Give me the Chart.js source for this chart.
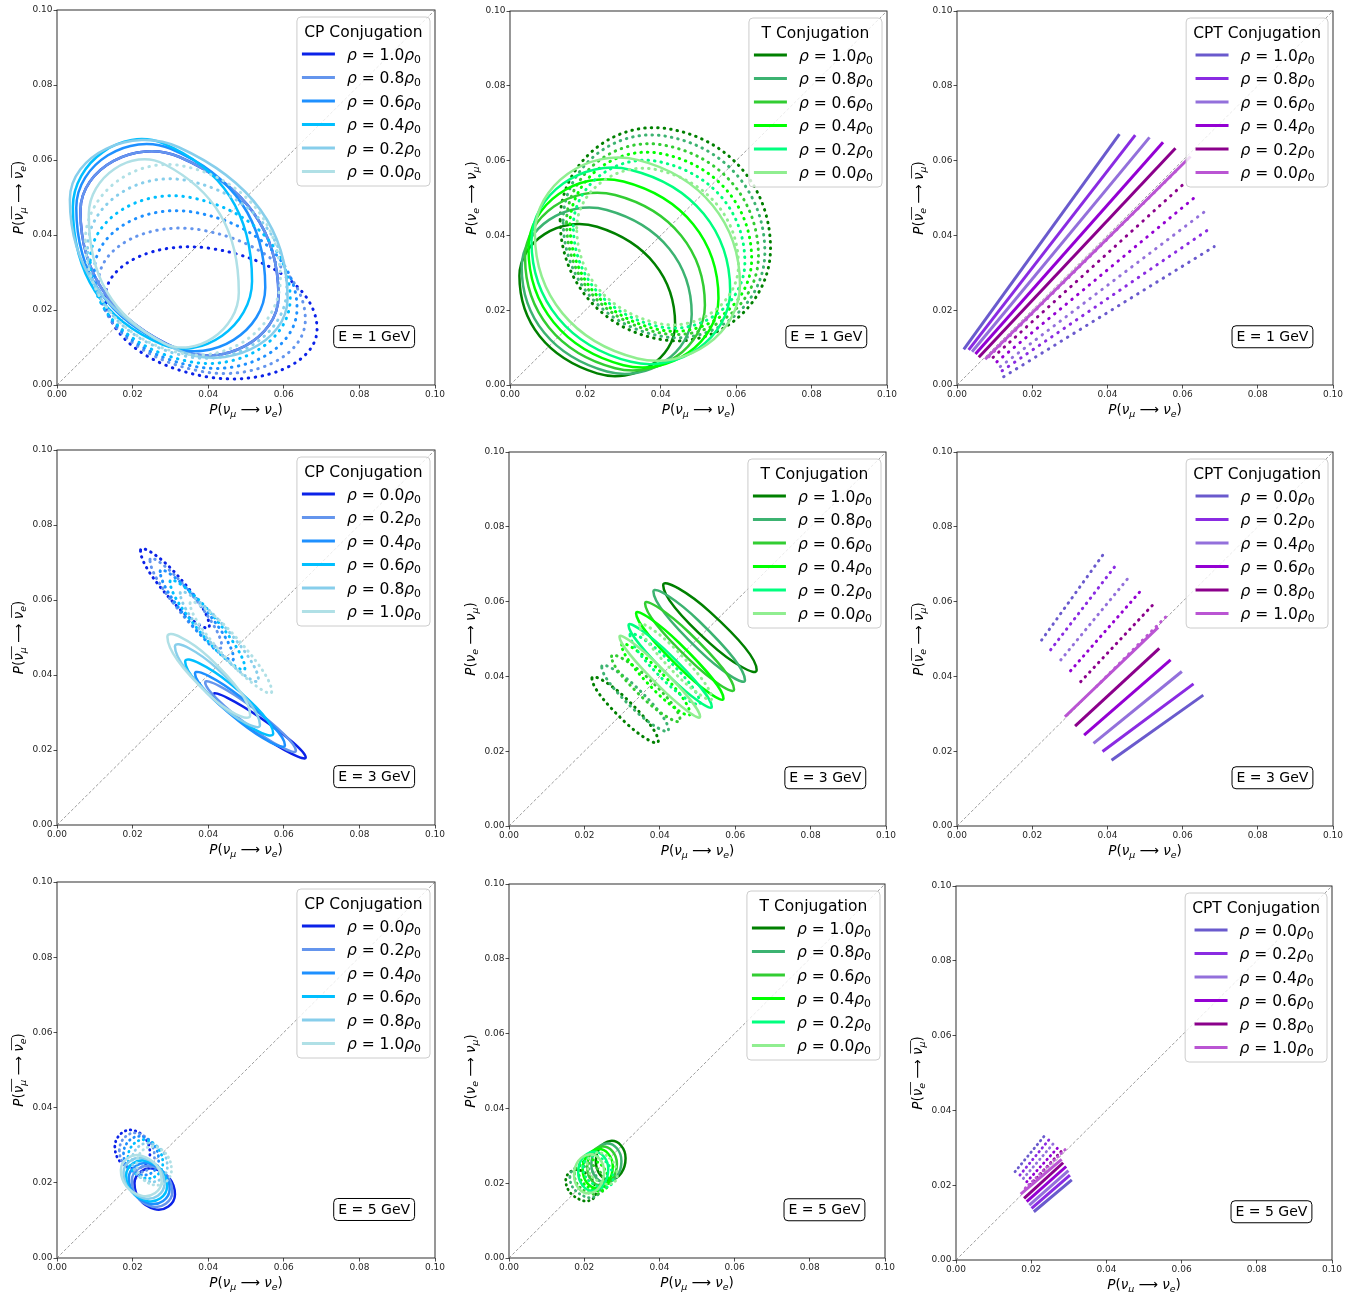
<!DOCTYPE html>
<html><head><meta charset="utf-8">
<script src="https://cdn.jsdelivr.net/npm/chart.js@4.4.1/dist/chart.umd.min.js"></script>
<style>
html,body{margin:0;padding:0;background:#fff;}
body{width:1365px;height:1292px;position:relative;overflow:hidden;}
canvas{position:absolute;}
</style></head><body>
<script>
// ---------------- DATA ----------------
// Ellipses: [left-most point, upper crossing at centre x, right-most point, lower crossing at centre x]
// Lines: [start, end]
const energies = ['1', '3', '5'];
const rhoDesc = ['1.0', '0.8', '0.6', '0.4', '0.2', '0.0'];
const rhoAsc = ['0.0', '0.2', '0.4', '0.6', '0.8', '1.0'];
const cpColors = ['#0b22e8', '#6495ed', '#1e90ff', '#00bfff', '#87ceeb', '#b0e0e6'];
const tColors = ['#008000', '#3cb371', '#32cd32', '#00ff00', '#00ff7f', '#90ee90'];
const cptColors = ['#6a5acd', '#8a2be2', '#9370db', '#9400d3', '#8b008b', '#ba55d3'];
const diagonal = [[0, 0], [0.1, 0.1]];

const cpE1Solid = [
  [[0.0062,0.0465],[0.0324,0.0608],[0.0586,0.0237],[0.0324,0.0094]],
  [[0.0062,0.0465],[0.0324,0.0608],[0.0586,0.0237],[0.0324,0.0094]],
  [[0.0051,0.0473],[0.0301,0.0630],[0.0551,0.0260],[0.0301,0.0103]],
  [[0.0042,0.0475],[0.0279,0.0645],[0.0516,0.0277],[0.0279,0.0108]],
  [[0.0034,0.0495],[0.0322,0.0634],[0.0610,0.0231],[0.0322,0.0092]],
  [[0.0084,0.0455],[0.0282,0.0590],[0.0481,0.0247],[0.0282,0.0112]]
];
const cpE1Dotted = [
  [[0.0128,0.0235],[0.0408,0.0364],[0.0688,0.0149],[0.0408,0.0020]],
  [[0.0110,0.0275],[0.0384,0.0413],[0.0657,0.0174],[0.0384,0.0036]],
  [[0.0099,0.0305],[0.0367,0.0460],[0.0635,0.0204],[0.0367,0.0049]],
  [[0.0088,0.0332],[0.0353,0.0500],[0.0617,0.0230],[0.0353,0.0062]],
  [[0.0081,0.0365],[0.0345,0.0545],[0.0608,0.0256],[0.0345,0.0076]],
  [[0.0075,0.0385],[0.0333,0.0584],[0.0591,0.0283],[0.0333,0.0084]]
];
const tE1Solid = [
  [[0.0025,0.0292],[0.0231,0.0423],[0.0438,0.0162],[0.0231,0.0031]],
  [[0.0031,0.0315],[0.0257,0.0468],[0.0482,0.0189],[0.0257,0.0036]],
  [[0.0040,0.0340],[0.0279,0.0508],[0.0517,0.0213],[0.0279,0.0045]],
  [[0.0049,0.0365],[0.0301,0.0544],[0.0553,0.0232],[0.0301,0.0053]],
  [[0.0057,0.0385],[0.0321,0.0575],[0.0584,0.0252],[0.0321,0.0062]],
  [[0.0066,0.0405],[0.0338,0.0602],[0.0610,0.0268],[0.0338,0.0071]]
];
const tE1Dotted = [
  [[0.0133,0.0441],[0.0412,0.0686],[0.0691,0.0365],[0.0412,0.0120]],
  [[0.0141,0.0440],[0.0409,0.0666],[0.0676,0.0355],[0.0409,0.0129]],
  [[0.0150,0.0435],[0.0405,0.0642],[0.0659,0.0345],[0.0405,0.0138]],
  [[0.0159,0.0430],[0.0400,0.0619],[0.0641,0.0336],[0.0400,0.0147]],
  [[0.0168,0.0425],[0.0396,0.0597],[0.0623,0.0328],[0.0396,0.0156]],
  [[0.0177,0.0420],[0.0392,0.0575],[0.0606,0.0320],[0.0392,0.0165]]
];
const cptE1Solid = [
  [[0.0018,0.0095],[0.0432,0.0671]],
  [[0.0031,0.0094],[0.0474,0.0668]],
  [[0.0040,0.0089],[0.0512,0.0662]],
  [[0.0049,0.0083],[0.0548,0.0649]],
  [[0.0058,0.0074],[0.0581,0.0633]],
  [[0.0075,0.0069],[0.0621,0.0611]]
];
const cptE1Dotted = [
  [[0.0124,0.0022],[0.0684,0.0370]],
  [[0.0120,0.0038],[0.0678,0.0422]],
  [[0.0115,0.0049],[0.0658,0.0463]],
  [[0.0106,0.0062],[0.0635,0.0504]],
  [[0.0096,0.0074],[0.0610,0.0544]],
  [[0.0085,0.0076],[0.0590,0.0580]]
];
const cpE3Solid = [
  [[0.0414,0.0349],[0.0536,0.02875],[0.0658,0.0180],[0.0536,0.02415]],
  [[0.0392,0.0380],[0.0512,0.0317],[0.0632,0.0198],[0.0512,0.0261]],
  [[0.0365,0.0404],[0.0484,0.03425],[0.0603,0.0213],[0.0484,0.02745]],
  [[0.0339,0.0436],[0.04555,0.0379],[0.0572,0.0244],[0.04555,0.0301]],
  [[0.0312,0.0476],[0.04245,0.04165],[0.0537,0.0267],[0.04245,0.03265]],
  [[0.0292,0.0502],[0.04015,0.04475],[0.0511,0.0293],[0.04015,0.03475]]
];
const cpE3Dotted = [
  [[0.0221,0.0732],[0.0312,0.0673],[0.0403,0.0530],[0.0312,0.0589]],
  [[0.0246,0.0707],[0.0341,0.06335],[0.0436,0.0476],[0.0341,0.05495]],
  [[0.0273,0.0676],[0.0370,0.0602],[0.0467,0.0444],[0.0370,0.0518]],
  [[0.0299,0.0649],[0.0398,0.05755],[0.0497,0.0418],[0.0398,0.04915]],
  [[0.0326,0.0618],[0.04295,0.05445],[0.0533,0.0387],[0.04295,0.04605]],
  [[0.0352,0.0591],[0.0460,0.05155],[0.0568,0.0356],[0.0460,0.04315]]
];
const tE3Solid = [
  [[0.0409,0.0644],[0.0533,0.05725],[0.0657,0.0417],[0.0533,0.04885]],
  [[0.0383,0.0627],[0.05045,0.05475],[0.0626,0.0390],[0.05045,0.04695]],
  [[0.0361,0.0595],[0.0479,0.0516],[0.0597,0.0365],[0.0479,0.0444]],
  [[0.0337,0.0569],[0.0453,0.0488],[0.0569,0.0341],[0.0453,0.0422]],
  [[0.0317,0.0537],[0.04275,0.0458],[0.0538,0.0319],[0.04275,0.0398]],
  [[0.0293,0.0506],[0.0400,0.0426],[0.0507,0.0292],[0.0400,0.0372]]
];
const tE3Dotted = [
  [[0.0220,0.0395],[0.0308,0.03435],[0.0396,0.0226],[0.0308,0.02775]],
  [[0.0246,0.0426],[0.03345,0.03745],[0.0423,0.0257],[0.03345,0.03085]],
  [[0.0272,0.0453],[0.0363,0.0401],[0.0454,0.0283],[0.0363,0.0335]],
  [[0.0299,0.0484],[0.03895,0.0425],[0.0480,0.0300],[0.03895,0.0359]],
  [[0.0321,0.0511],[0.0414,0.04525],[0.0507,0.0328],[0.0414,0.03865]],
  [[0.0347,0.0537],[0.04425,0.0472],[0.0538,0.0341],[0.04425,0.0406]]
];
const cptE3Solid = [
  [[0.0411,0.0176],[0.0655,0.0350]],
  [[0.0387,0.0199],[0.0629,0.0380]],
  [[0.0363,0.0221],[0.0598,0.0413]],
  [[0.0338,0.0243],[0.0568,0.0444]],
  [[0.0314,0.0267],[0.0538,0.0475]],
  [[0.0287,0.0292],[0.0535,0.0531]]
];
const cptE3Dotted = [
  [[0.0225,0.0497],[0.0391,0.0729]],
  [[0.0249,0.0471],[0.0423,0.0698]],
  [[0.0276,0.0444],[0.0457,0.0665]],
  [[0.0302,0.0415],[0.0494,0.0635]],
  [[0.0329,0.0386],[0.0529,0.0600]],
  [[0.0371,0.0373],[0.0566,0.0570]]
];
const cpE5Solid = [
  [[0.0205,0.0199],[0.0258,0.0237],[0.0312,0.0169],[0.0258,0.0130]],
  [[0.0198,0.0206],[0.0251,0.0244],[0.0305,0.0176],[0.0251,0.0137]],
  [[0.0190,0.0213],[0.0244,0.0251],[0.0298,0.0183],[0.0244,0.0145]],
  [[0.0183,0.0220],[0.0237,0.0258],[0.0291,0.0190],[0.0237,0.0152]],
  [[0.0176,0.0227],[0.0230,0.0265],[0.0284,0.0197],[0.0230,0.0159]],
  [[0.0169,0.0234],[0.0223,0.0272],[0.0277,0.0204],[0.0223,0.0166]]
];
const cpE5Dotted = [
  [[0.0153,0.0296],[0.0200,0.0340],[0.0246,0.0278],[0.0200,0.0238]],
  [[0.0165,0.0287],[0.0211,0.0332],[0.0258,0.0269],[0.0211,0.0229]],
  [[0.0176,0.0278],[0.0223,0.0323],[0.0269,0.0260],[0.0223,0.0221]],
  [[0.0188,0.0269],[0.0234,0.0314],[0.0280,0.0252],[0.0234,0.0212]],
  [[0.0199,0.0261],[0.0246,0.0305],[0.0292,0.0243],[0.0246,0.0203]],
  [[0.0211,0.0252],[0.0257,0.0296],[0.0303,0.0234],[0.0257,0.0194]]
];
const tE5Solid = [
  [[0.0231,0.0258],[0.0270,0.0313],[0.0310,0.0267],[0.0270,0.0209]],
  [[0.0219,0.0250],[0.0259,0.0306],[0.0299,0.0259],[0.0259,0.0202]],
  [[0.0208,0.0243],[0.0247,0.0298],[0.0287,0.0252],[0.0247,0.0194]],
  [[0.0196,0.0236],[0.0236,0.0291],[0.0276,0.0245],[0.0236,0.0187]],
  [[0.0184,0.0229],[0.0224,0.0284],[0.0264,0.0238],[0.0224,0.0180]],
  [[0.0173,0.0222],[0.0213,0.0277],[0.0253,0.0231],[0.0213,0.0173]]
];
const tE5Dotted = [
  [[0.0151,0.0209],[0.0191,0.0234],[0.0231,0.0173],[0.0191,0.0155]],
  [[0.0162,0.0217],[0.0202,0.0244],[0.0242,0.0182],[0.0202,0.0164]],
  [[0.0174,0.0226],[0.0214,0.0253],[0.0254,0.0191],[0.0214,0.0173]],
  [[0.0185,0.0235],[0.0225,0.0262],[0.0265,0.0200],[0.0225,0.0182]],
  [[0.0197,0.0244],[0.0237,0.0271],[0.0277,0.0209],[0.0237,0.0191]],
  [[0.0208,0.0253],[0.0248,0.0280],[0.0288,0.0218],[0.0248,0.0200]]
];
const cptE5Solid = [
  [[0.0207,0.0129],[0.0308,0.0214]],
  [[0.0201,0.0138],[0.0303,0.0227]],
  [[0.0195,0.0147],[0.0299,0.0239]],
  [[0.0188,0.0156],[0.0293,0.0250]],
  [[0.0181,0.0165],[0.0285,0.0260]],
  [[0.0172,0.0176],[0.0281,0.0269]]
];
const cptE5Dotted = [
  [[0.0157,0.0236],[0.0237,0.0334]],
  [[0.0170,0.0227],[0.0250,0.0325]],
  [[0.0179,0.0218],[0.0263,0.0316]],
  [[0.0188,0.0209],[0.0275,0.0305]],
  [[0.0197,0.0201],[0.0285,0.0296]],
  [[0.0184,0.0192],[0.0294,0.0299]]
];

// ---------------- closed smooth curve controller ----------------
class LoopLineController extends Chart.LineController {
  static id = 'loopline';
  update(mode) {
    super.update(mode);
    const line = this._cachedMeta.dataset;
    line._loop = true;
    line._fullLoop = true;
    delete line._segments;
    line._path = undefined;
    line._pointsUpdated = false;
  }
}
Chart.register(LoopLineController);

// ---------------- text helpers ----------------
const FONT = '"DejaVu Sans", sans-serif';
function fnt(size, it) { return (it ? 'italic ' : '') + size.toFixed(2) + 'px ' + FONT; }
function runWidths(ctx, runs, size) {
  return runs.map(r => { ctx.font = fnt(r.sub ? size * 0.7 : size, r.it); return ctx.measureText(r.t).width; });
}
function drawRich(ctx, runs, x, yMid, size, align) {
  const ws = runWidths(ctx, runs, size);
  const total = ws.reduce((s, w) => s + w, 0);
  let cx = align === 'center' ? x - total / 2 : x;
  const base = yMid + size * 0.36;
  const bars = {};
  ctx.textAlign = 'left';
  ctx.textBaseline = 'alphabetic';
  runs.forEach((r, i) => {
    ctx.font = fnt(r.sub ? size * 0.7 : size, r.it);
    ctx.fillText(r.t, cx, base + (r.sub ? size * 0.2 : 0));
    if (r.bar) { const b = bars[r.bar] || (bars[r.bar] = { x0: cx, x1: cx }); b.x1 = cx + ws[i]; }
    cx += ws[i];
  });
  Object.values(bars).forEach(b => {
    ctx.beginPath(); ctx.lineWidth = Math.max(0.8, size * 0.06);
    ctx.moveTo(b.x0 + size * 0.12, base - size * 0.84); ctx.lineTo(b.x1 + 1, base - size * 0.84); ctx.stroke();
  });
  return total;
}
const xTitleRuns = [{t:'P',it:1},{t:'('},{t:'ν',it:1},{t:'μ',it:1,sub:1},{t:' ⟶ '},{t:'ν',it:1},{t:'e',it:1,sub:1},{t:')'}];
const yTitles = {
  cp: [{t:'P',it:1},{t:'('},{t:'ν',it:1,bar:1},{t:'μ',it:1,sub:1,bar:1},{t:' ⟶ '},{t:'ν',it:1,bar:2},{t:'e',it:1,sub:1,bar:2},{t:')'}],
  t: [{t:'P',it:1},{t:'('},{t:'ν',it:1},{t:'e',it:1,sub:1},{t:' ⟶ '},{t:'ν',it:1},{t:'μ',it:1,sub:1},{t:')'}],
  cpt: [{t:'P',it:1},{t:'('},{t:'ν',it:1,bar:1},{t:'e',it:1,sub:1,bar:1},{t:' ⟶ '},{t:'ν',it:1,bar:2},{t:'μ',it:1,sub:1,bar:2},{t:')'}]
};
const titles = { cp: 'CP Conjugation', t: 'T Conjugation', cpt: 'CPT Conjugation' };
function entryRuns(label) { return [{t:'ρ',it:1},{t:' = ' + label},{t:'ρ',it:1},{t:'0',sub:1}]; }

function rrect(ctx, x, y, w, h, r) {
  ctx.beginPath();
  ctx.moveTo(x + r, y); ctx.lineTo(x + w - r, y); ctx.quadraticCurveTo(x + w, y, x + w, y + r);
  ctx.lineTo(x + w, y + h - r); ctx.quadraticCurveTo(x + w, y + h, x + w - r, y + h);
  ctx.lineTo(x + r, y + h); ctx.quadraticCurveTo(x, y + h, x, y + h - r);
  ctx.lineTo(x, y + r); ctx.quadraticCurveTo(x, y, x + r, y); ctx.closePath();
}

function makeDeco(spec) {
  return {
    id: 'deco',
    beforeDatasetsDraw(chart) {
      const { ctx, chartArea: a } = chart;
      ctx.save(); ctx.strokeStyle = '#1a1a1a'; ctx.lineWidth = 0.9;
      ctx.strokeRect(a.left, a.top, a.right - a.left, a.bottom - a.top); ctx.restore();
    },
    afterDraw(chart) {
      const { ctx, chartArea: a } = chart;
      ctx.save();
      ctx.fillStyle = '#000'; ctx.strokeStyle = '#000';
      drawRich(ctx, xTitleRuns, (a.left + a.right) / 2, a.bottom + 24, 13.5, 'center');
      ctx.save(); ctx.translate(a.left - 39, (a.top + a.bottom) / 2); ctx.rotate(-Math.PI / 2);
      drawRich(ctx, yTitles[spec.kind], 0, 0, 13.5, 'center'); ctx.restore();

      // legend
      const size = 15.5;
      const items = chart.data.datasets.filter(d => d.inLegend);
      ctx.font = fnt(size);
      const title = titles[spec.kind];
      const titleW = ctx.measureText(title).width;
      const textW = runWidths(ctx, entryRuns(items[0].label), size).reduce((s, w) => s + w, 0);
      const entryW = 33 + 12 + textW;
      const inner = Math.max(titleW, entryW);
      const bw = inner + 14, bh = 169;
      const bx = a.right - 5 - bw, by = a.top + 7;
      rrect(ctx, bx, by, bw, bh, 4);
      ctx.fillStyle = 'rgba(255,255,255,0.8)'; ctx.fill();
      ctx.strokeStyle = '#cccccc'; ctx.lineWidth = 1; ctx.stroke();
      ctx.fillStyle = '#000'; ctx.strokeStyle = '#000';
      ctx.font = fnt(size); ctx.textAlign = 'center'; ctx.textBaseline = 'alphabetic';
      ctx.fillText(title, bx + bw / 2, by + 14 + size * 0.36);
      const ex = bx + 7 + (inner - entryW) / 2 - 2;
      items.forEach((d, i) => {
        const y = by + 37 + i * 23.5;
        ctx.save(); ctx.strokeStyle = d.borderColor; ctx.lineWidth = 2.8; ctx.setLineDash([]);
        ctx.beginPath(); ctx.moveTo(ex, y); ctx.lineTo(ex + 33, y); ctx.stroke(); ctx.restore();
        ctx.fillStyle = '#000';
        drawRich(ctx, entryRuns(d.label), ex + 45, y, size, 'left');
      });

      // energy box
      const etxt = 'E = ' + spec.e + ' GeV';
      ctx.font = fnt(14); const ew = ctx.measureText(etxt).width;
      const ecx = a.left + 0.839 * (a.right - a.left), ecy = a.bottom - 0.129 * (a.bottom - a.top);
      rrect(ctx, ecx - ew / 2 - 4.5, ecy - 11, ew + 9, 22, 4);
      ctx.fillStyle = '#fff'; ctx.fill(); ctx.strokeStyle = '#000'; ctx.lineWidth = 1; ctx.stroke();
      ctx.fillStyle = '#000'; ctx.textAlign = 'center'; ctx.textBaseline = 'middle';
      ctx.fillText(etxt, ecx, ecy + 0.5);
      ctx.restore();
    }
  };
}

// ---------------- panels ----------------
const panels = [
  { kind: 'cp', e: energies[0], solid: cpE1Solid, dotted: cpE1Dotted, labels: rhoDesc, colors: cpColors, box: [57, 10, 435, 385], gap: 6.5, dw: 3 },
  { kind: 't', e: energies[0], solid: tE1Solid, dotted: tE1Dotted, labels: rhoDesc, colors: tColors, box: [510, 11, 887, 385], gap: 6, dw: 3 },
  { kind: 'cpt', e: energies[0], solid: cptE1Solid, dotted: cptE1Dotted, labels: rhoDesc, colors: cptColors, box: [957, 11, 1333, 385], gap: 7, dw: 3 },
  { kind: 'cp', e: energies[1], solid: cpE3Solid, dotted: cpE3Dotted, labels: rhoAsc, colors: cpColors, box: [57, 450, 435, 825], gap: 5.5, dw: 3 },
  { kind: 't', e: energies[1], solid: tE3Solid, dotted: tE3Dotted, labels: rhoDesc, colors: tColors, box: [509, 452, 886, 826], gap: 5.5, dw: 3 },
  { kind: 'cpt', e: energies[1], solid: cptE3Solid, dotted: cptE3Dotted, labels: rhoAsc, colors: cptColors, box: [957, 452, 1333, 826], gap: 6, dw: 3 },
  { kind: 'cp', e: energies[2], solid: cpE5Solid, dotted: cpE5Dotted, labels: rhoAsc, colors: cpColors, box: [57, 882, 435, 1258], gap: 4.5, dw: 2.8 },
  { kind: 't', e: energies[2], solid: tE5Solid, dotted: tE5Dotted, labels: rhoDesc, colors: tColors, box: [509, 884, 885, 1258], gap: 4.5, dw: 2.8 },
  { kind: 'cpt', e: energies[2], solid: cptE5Solid, dotted: cptE5Dotted, labels: rhoAsc, colors: cptColors, box: [956, 886, 1332, 1260], gap: 4.5, dw: 2.8 }
];

function buildDatasets(p) {
  const isLine = p.kind === 'cpt';
  const ds = [{
    type: 'line', data: diagonal, borderColor: 'rgba(110,110,110,0.85)', borderWidth: 0.8,
    borderDash: [3, 2], pointRadius: 0, tension: 0, order: 50
  }];
  p.solid.forEach((pts, i) => {
    ds.push({
      type: isLine ? 'line' : 'loopline', label: p.labels[i], inLegend: true, data: pts,
      borderColor: p.colors[i], borderWidth: isLine ? 3 : 2.5, pointRadius: 0,
      tension: isLine ? 0 : 0.5523, borderCapStyle: 'butt', order: -(2 * i)
    });
    ds.push({
      type: isLine ? 'line' : 'loopline', label: p.labels[i] + ' dotted', data: p.dotted[i],
      borderColor: p.colors[i], borderWidth: p.dw, pointRadius: 0,
      tension: isLine ? 0 : 0.5523, borderDash: [0.5, p.gap], borderCapStyle: 'round', order: -(2 * i + 1)
    });
  });
  return ds;
}

function axis(extra) {
  return Object.assign({
    type: 'linear', min: 0, max: 0.1,
    ticks: { stepSize: 0.02, autoSkip: false, maxRotation: 0, padding: 1,
      font: { family: 'DejaVu Sans', size: 9 }, color: '#262626',
      callback: v => Number(v).toFixed(2) },
    grid: { display: true, drawOnChartArea: false, drawTicks: true, tickLength: 3.5, color: '#222', lineWidth: 0.8 },
    border: { display: false }
  }, extra);
}

panels.forEach(p => {
  const [x0, y0, x1, y1] = p.box;
  const W = (x1 - x0) + 60 + 22, H = (y1 - y0) + 10 + 48;
  const cv = document.createElement('canvas');
  cv.width = W; cv.height = H;
  cv.style.left = (x0 - 60) + 'px'; cv.style.top = (y0 - 10) + 'px';
  cv.style.width = W + 'px'; cv.style.height = H + 'px';
  document.body.appendChild(cv);
  new Chart(cv, {
    type: 'line',
    data: { datasets: buildDatasets(p) },
    options: {
      responsive: false, animation: false, devicePixelRatio: 1, events: [],
      layout: { padding: { left: 0, top: 10, right: 22, bottom: 0 } },
      plugins: { legend: { display: false }, tooltip: { enabled: false } },
      elements: { point: { radius: 0 } },
      scales: {
        x: axis({ position: 'bottom', afterFit: s => { s.height = 48; } }),
        y: axis({ position: 'left', afterFit: s => { s.width = 60; } })
      }
    },
    plugins: [makeDeco(p)]
  });
});
</script>
</body></html>
